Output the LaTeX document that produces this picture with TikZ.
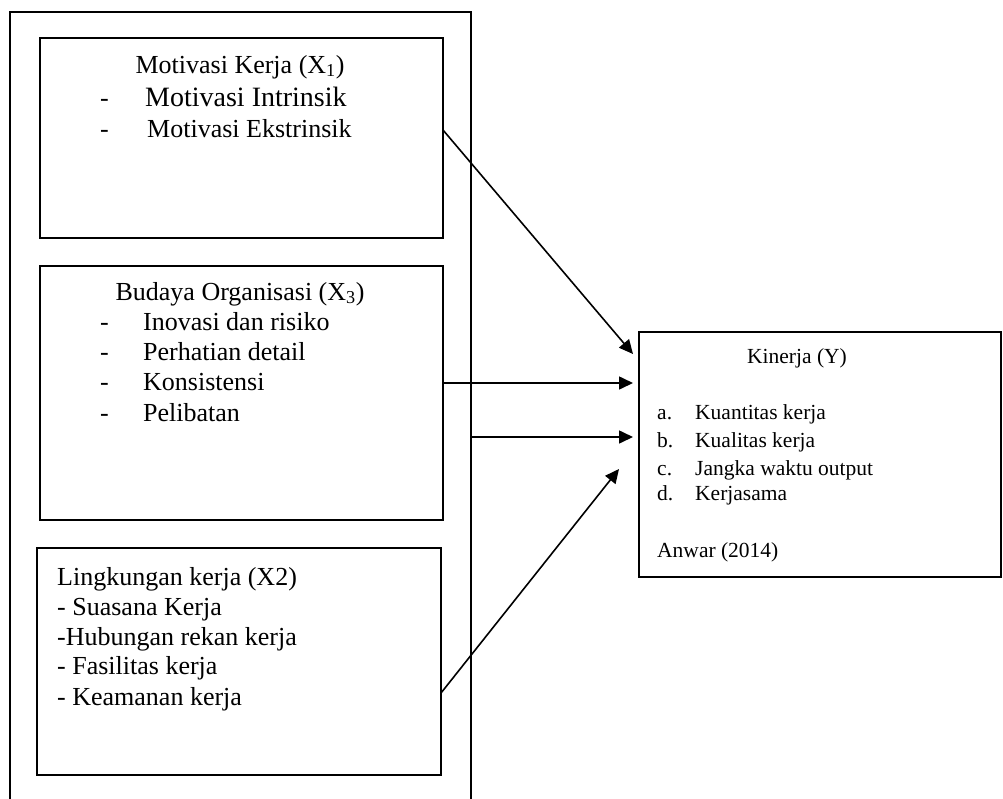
\documentclass[tikz,border=0pt]{standalone}
\usepackage{fontspec}
\setmainfont{Liberation Serif}
\usetikzlibrary{arrows.meta}
\begin{document}
\begin{tikzpicture}[x=1pt,y=-1pt,
  box/.style={draw, line width=1.7pt, inner sep=0, outer sep=0},
  big/.style={inner sep=0, anchor=base west, font=\fontsize{26}{30}\selectfont},
  bigc/.style={inner sep=0, anchor=base, font=\fontsize{26}{30}\selectfont},
  bigger/.style={inner sep=0, anchor=base west, font=\fontsize{28}{32}\selectfont},
  small/.style={inner sep=0, anchor=base west, font=\fontsize{21.5}{26}\selectfont},
  smallc/.style={inner sep=0, anchor=base, font=\fontsize{21.5}{26}\selectfont},
  arr/.style={line width=1.6pt, -{Triangle[length=14pt,width=13pt]}}]
\useasboundingbox (0,0) rectangle (1003,798);
% outer frame
\coordinate (obl) at (10,800);
\coordinate (otl) at (10,12);
\coordinate (otr) at (471,12);
\coordinate (obr) at (471,800);
\draw[line width=1.8pt] (obl) -- (otl) -- (otr) -- (obr);
% boxes
\node[box, minimum width=403pt, minimum height=200pt] (b1) at (241.5,138) {};
\node[box, minimum width=403pt, minimum height=254pt] (b2) at (241.5,393) {};
\node[box, minimum width=404pt, minimum height=227pt] (b3) at (239,661.5) {};
\node[box, minimum width=362pt, minimum height=245pt] (ky) at (820,454.5) {};
% box 1 text
\node[bigc] (t1) at (240,73) {Motivasi Kerja (X\textsubscript{1})};
\node[big] (d11) at (100,106) {-};
\node[bigger] (t11) at (145,106) {Motivasi Intrinsik};
\node[big] (d12) at (100,137) {-};
\node[big] (t12) at (147,137) {Motivasi Ekstrinsik};
% box 2 text
\node[bigc] (t2) at (240,300) {Budaya Organisasi (X\textsubscript{3})};
\node[big] (d21) at (100,330) {-};
\node[big] (t21) at (143,330) {Inovasi dan risiko};
\node[big] (d22) at (100,360) {-};
\node[big] (t22) at (143,360) {Perhatian detail};
\node[big] (d23) at (100,390) {-};
\node[big] (t23) at (143,390) {Konsistensi};
\node[big] (d24) at (100,421) {-};
\node[big] (t24) at (143,421) {Pelibatan};
% box 3 text
\node[big] (t3) at (57,585) {Lingkungan kerja (X2)};
\node[big] (t31) at (57,615) {- Suasana Kerja};
\node[big] (t32) at (57,645) {-Hubungan rekan kerja};
\node[big] (t33) at (57,674) {- Fasilitas kerja};
\node[big] (t34) at (57,705) {- Keamanan kerja};
% Kinerja text
\node[smallc] (ty) at (797,363) {Kinerja (Y)};
\node[small] (la) at (657,419) {a.};
\node[small] (ya) at (695,419) {Kuantitas kerja};
\node[small] (lb) at (657,447) {b.};
\node[small] (yb) at (695,447) {Kualitas kerja};
\node[small] (lc) at (657,475) {c.};
\node[small] (yc) at (695,475) {Jangka waktu output};
\node[small] (ld) at (657,500) {d.};
\node[small] (yd) at (695,500) {Kerjasama};
\node[small] (src) at (657,557) {Anwar (2014)};
% arrows
\coordinate (e1) at (633,354);
\coordinate (e2) at (633,383);
\coordinate (e3) at (633,437);
\coordinate (e4) at (619,469);
\draw[arr] (b1.east |- 0,130) -- (e1);
\draw[arr] (b2.east |- 0,383) -- (e2);
\draw[arr] (otr |- 0,437) -- (e3);
\draw[arr] (b3.east |- 0,693) -- (e4);
\end{tikzpicture}
\end{document}
